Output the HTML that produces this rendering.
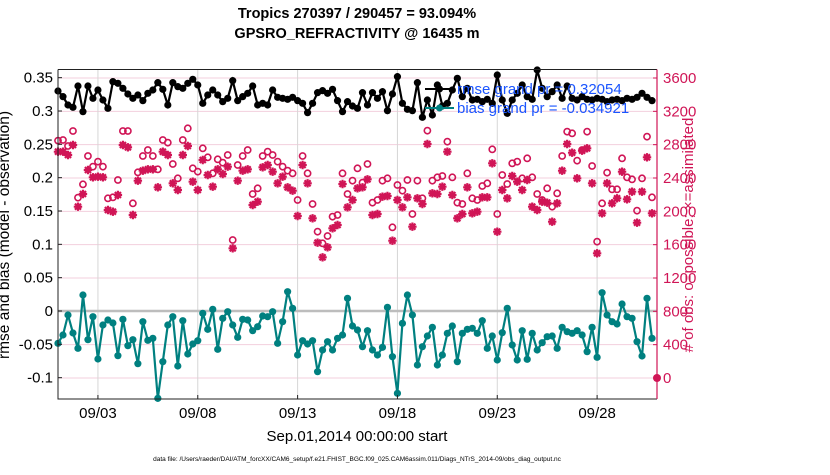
<!DOCTYPE html>
<html><head><meta charset="utf-8">
<style>
html,body{margin:0;padding:0;background:#fff;}
body{width:830px;height:470px;overflow:hidden;font-family:"Liberation Sans",sans-serif;}
svg text{font-family:"Liberation Sans",sans-serif;}
</style></head>
<body>
<svg id="chart" width="830" height="470" viewBox="0 0 830 470" xmlns="http://www.w3.org/2000/svg">
  <text x="357" y="18" text-anchor="middle" font-size="14.5" font-weight="bold">Tropics 270397 / 290457 = 93.094%</text>
  <text x="357" y="38" text-anchor="middle" font-size="14.5" font-weight="bold">GPSRO_REFRACTIVITY @ 16435 m</text>
  <g id="grid"></g>
  <g id="marks"></g>
  <g id="axes"></g>
  <text transform="translate(9,235) rotate(-90)" text-anchor="middle" font-size="15.5">rmse and bias (model - observation)</text>
  <text transform="translate(693,235) rotate(-90)" text-anchor="middle" font-size="15" fill="#d01556"># of obs: o=possible; ×=assimilated</text>
  <text x="357" y="441" text-anchor="middle" font-size="15">Sep.01,2014 00:00:00 start</text>
  <text x="357" y="461" text-anchor="middle" font-size="6.5">data file: /Users/raeder/DAI/ATM_forcXX/CAM6_setup/f.e21.FHIST_BGC.f09_025.CAM6assim.011/Diags_NTrS_2014-09/obs_diag_output.nc</text>
  <g id="legend"></g>
</svg>
<script>
const rmse = [0.330,0.3215,0.309,0.3055,0.3375,0.299,0.3375,0.319,0.3315,0.3165,0.304,0.344,0.3415,0.334,0.3255,0.319,0.324,0.3155,0.3265,0.3315,0.3425,
0.3325,0.309,0.3425,0.3365,0.334,0.3415,0.3475,0.339,0.3115,0.324,0.3315,0.324,0.314,0.319,0.3455,0.3155,0.3215,0.3265,0.3375,0.309,
0.3115,0.309,0.3315,0.3205,0.319,0.3175,0.3205,0.3155,0.3115,0.2975,0.3115,0.3275,0.3305,0.3265,0.3325,0.3155,0.299,0.314,0.3075,0.304,
0.3275,0.309,0.3275,0.319,0.329,0.3005,0.3255,0.3515,0.3115,0.3025,0.3005,0.3425,0.2905,0.3165,0.294,0.339,0.3075,0.3115,0.3315,0.349,
0.3215,0.334,0.3165,0.3175,0.314,0.3175,0.3115,0.354,0.3165,0.2965,0.3165,0.3265,0.339,0.3215,0.3175,0.3615,0.334,0.3215,0.329,0.339,
0.319,0.3375,0.319,0.3165,0.3215,0.3175,0.3165,0.319,0.3175,0.314,0.3165,0.3175,0.3155,0.319,0.3175,0.3205,0.3265,0.3205,0.3155];
const bias = [-0.0485,-0.036,-0.006,-0.033,-0.056,0.024,-0.043,-0.0085,-0.072,-0.021,-0.0135,-0.018,-0.067,-0.0125,-0.052,-0.043,-0.079,-0.016,-0.044,-0.041,-0.131,
-0.076,-0.021,-0.0085,-0.0825,-0.0145,-0.0645,-0.0495,-0.0445,-0.0035,-0.0275,0.0025,-0.0575,-0.011,-0.001,-0.021,-0.0395,-0.0125,-0.0135,-0.0295,-0.0235,
-0.0075,-0.0085,-0.001,-0.0485,-0.016,0.029,0.004,-0.066,-0.0445,-0.0495,-0.0445,-0.091,-0.0585,-0.046,-0.0585,-0.041,-0.036,0.019,-0.0225,-0.0285,
-0.0535,-0.0295,-0.0585,-0.066,-0.0545,0.0055,-0.0685,-0.1235,-0.0185,0.024,-0.006,-0.081,-0.0535,-0.0375,-0.0245,-0.081,-0.066,-0.0335,-0.0225,-0.076,
-0.0335,-0.0275,-0.026,-0.0335,-0.0145,-0.056,-0.0375,-0.0735,-0.0325,0.004,-0.051,-0.0735,-0.0295,-0.0725,-0.0335,-0.0585,-0.0475,-0.0385,-0.0375,-0.056,
-0.0245,-0.031,-0.0335,-0.0295,-0.036,-0.061,-0.0245,-0.0695,0.0275,-0.006,-0.016,-0.0195,0.0105,-0.0085,-0.011,-0.046,-0.0675,0.019,-0.041];
const possible = [2848,2856,2784,2964,2164,2324,2664,2536,2596,2536,2156,2168,2376,2964,2964,2096,2468,2664,2736,2664,2504,
2856,2824,2568,2396,2856,2996,2516,2476,2756,2648,2456,2624,2584,2676,1656,2556,2664,2736,2208,2276,
2664,2716,2676,2596,2536,2488,2456,2136,2664,2456,2088,1756,1616,1704,1936,1956,2456,2208,2368,2516,
2344,2568,2104,2136,2368,2396,1808,2316,2248,2376,1968,2368,2156,2968,2368,2408,2424,2836,2408,2104,
2088,2456,2156,2136,2304,2336,2744,1968,2436,2328,2576,2596,2396,2636,2408,2208,2136,2276,2056,2216,
2664,2956,2936,2608,2736,2956,2544,1636,2096,2464,2264,2264,2636,2408,2384,2008,2396,2896,2168];
const assimilated = [2716,2716,2676,2796,2056,2208,2496,2408,2416,2408,2016,1996,2196,2796,2768,1956,2368,2488,2504,2504,2288,
2716,2676,2336,2256,2676,2784,2356,2256,2616,2436,2296,2504,2448,2536,1556,2368,2488,2504,2076,2116,
2528,2556,2476,2336,2416,2288,2248,1944,2556,2336,1916,1624,1448,1568,1796,1836,2328,2048,2136,2276,
2288,2384,1956,1968,2176,2184,1648,2136,2048,2168,1816,2156,2088,2808,2216,2208,2296,2716,2196,1916,
1968,2288,1976,1996,2168,2168,2576,1756,2256,2156,2424,2356,2256,2376,2056,2016,2116,2104,1876,2096,
2488,2808,2704,2396,2728,2756,2336,1496,1976,2336,2096,2156,2476,2144,2236,1864,2236,2648,1976];
const leftTicks = [0.35,0.3,0.25,0.2,0.15,0.1,0.05,0,-0.05,-0.1];
const leftTickLabels = ["0.35","0.3","0.25","0.2","0.15","0.1","0.05","0","-0.05","-0.1"];
const rightTicks = [3600,3200,2800,2400,2000,1600,1200,800,400,0];
const dateTicks = [2,7,12,17,22,27];
const dateLabels = ["09/03","09/08","09/13","09/18","09/23","09/28"];
const stepDays = 0.25;
const legendLabels = ["rmse grand pr = 0.32054","bias grand pr = -0.034921"];

const NS="http://www.w3.org/2000/svg";
const PL=58, PR=657, PT=69.5, PB=399;
const xS = d => PL + d*(PR-PL)/30;
const yL = v => 311 - v*666.7;
const yR = c => 378 - c/12;
const RED="#d01556", TEAL="#008080";
function mk(tag, attrs, parent){const e=document.createElementNS(NS,tag);for(const k in attrs)e.setAttribute(k,attrs[k]);parent.appendChild(e);return e;}
const grid=document.getElementById('grid'), marks=document.getElementById('marks'), axes=document.getElementById('axes'), legend=document.getElementById('legend');

rightTicks.forEach(c=>{const l=mk('line',{x1:PL,x2:PR,y1:yR(c),y2:yR(c),stroke:'#f3cfdd','stroke-width':1},grid);

});
dateTicks.forEach(d=>{const l=mk('line',{x1:xS(d),x2:xS(d),y1:PT,y2:PB,stroke:'#d6d6d6','stroke-width':1},grid);

});
const z=mk('line',{x1:PL,x2:PR,y1:yL(0),y2:yL(0),stroke:'#bdbdbd','stroke-width':2.5},grid);



possible.forEach((c,i)=>{const e=mk('circle',{cx:xS(i*stepDays),cy:yR(c),r:3.1,fill:'none',stroke:RED,'stroke-width':1.6},marks);

});
assimilated.forEach((c,i)=>{const x=xS(i*stepDays),y=yR(c),s=4.2;
const e=mk('path',{d:`M${x-s} ${y}H${x+s}M${x} ${y-s}V${y+s}M${x-s*0.72} ${y-s*0.72}L${x+s*0.72} ${y+s*0.72}M${x-s*0.72} ${y+s*0.72}L${x+s*0.72} ${y-s*0.72}`,stroke:RED,'stroke-width':2.2,fill:'none'},marks);

});
const zc=mk('circle',{cx:PR,cy:yR(0),r:4,fill:RED},marks);



function series(vals,color,name){
 const pts=vals.map((v,i)=>xS(i*stepDays).toFixed(1)+','+yL(v).toFixed(1)).join(' ');
 const pl=mk('polyline',{points:pts,fill:'none',stroke:color,'stroke-width':2.2},marks);
 
 
 vals.forEach((v,i)=>{const c=mk('circle',{cx:xS(i*stepDays),cy:yL(v),r:3.6,fill:color},marks);
 
 });
}
series(rmse,'#000','rmse');
series(bias,TEAL,'bias');

const fr=mk('path',{d:`M${PL} ${PT}H${PR}M${PL} ${PT}V${PB}H${PR}`,stroke:'#222','stroke-width':1,fill:'none'},axes);


const ra=mk('line',{x1:PR,x2:PR,y1:PT,y2:PB,stroke:RED,'stroke-width':1.2},axes);


leftTicks.forEach((v,i)=>{
 const t=mk('line',{x1:PL,x2:PL+4,y1:yL(v),y2:yL(v),stroke:'#222'},axes);
 
 
 const tx=mk('text',{x:PL-5,y:yL(v)+5,'text-anchor':'end','font-size':15},axes);
 tx.textContent=leftTickLabels[i];
 
 
});
rightTicks.forEach(c=>{
 const t=mk('line',{x1:PR-4,x2:PR,y1:yR(c),y2:yR(c),stroke:RED},axes);
 
 
 const tx=mk('text',{x:PR+6,y:yR(c)+5,'font-size':15,fill:RED},axes);
 tx.textContent=String(c);
 
 
});
dateTicks.forEach((d,i)=>{
 const t=mk('line',{x1:xS(d),x2:xS(d),y1:PB-4,y2:PB,stroke:'#222'},axes);
 
 
 const tx=mk('text',{x:xS(d),y:418,'text-anchor':'middle','font-size':15},axes);
 tx.textContent=dateLabels[i];
 
 
});

[['#000',89],[TEAL,108]].forEach((s,i)=>{
 const l=mk('line',{x1:425,x2:454,y1:s[1],y2:s[1],stroke:s[0],'stroke-width':2},legend);
 
 
 const c=mk('circle',{cx:439.5,cy:s[1],r:3.5,fill:s[0]},legend);
 
 
 const t=mk('text',{x:457,y:s[1]+5,'font-size':15,fill:'#1a55ff'},legend);
 t.textContent=legendLabels[i];
 
 
});
</script>
</body></html>
